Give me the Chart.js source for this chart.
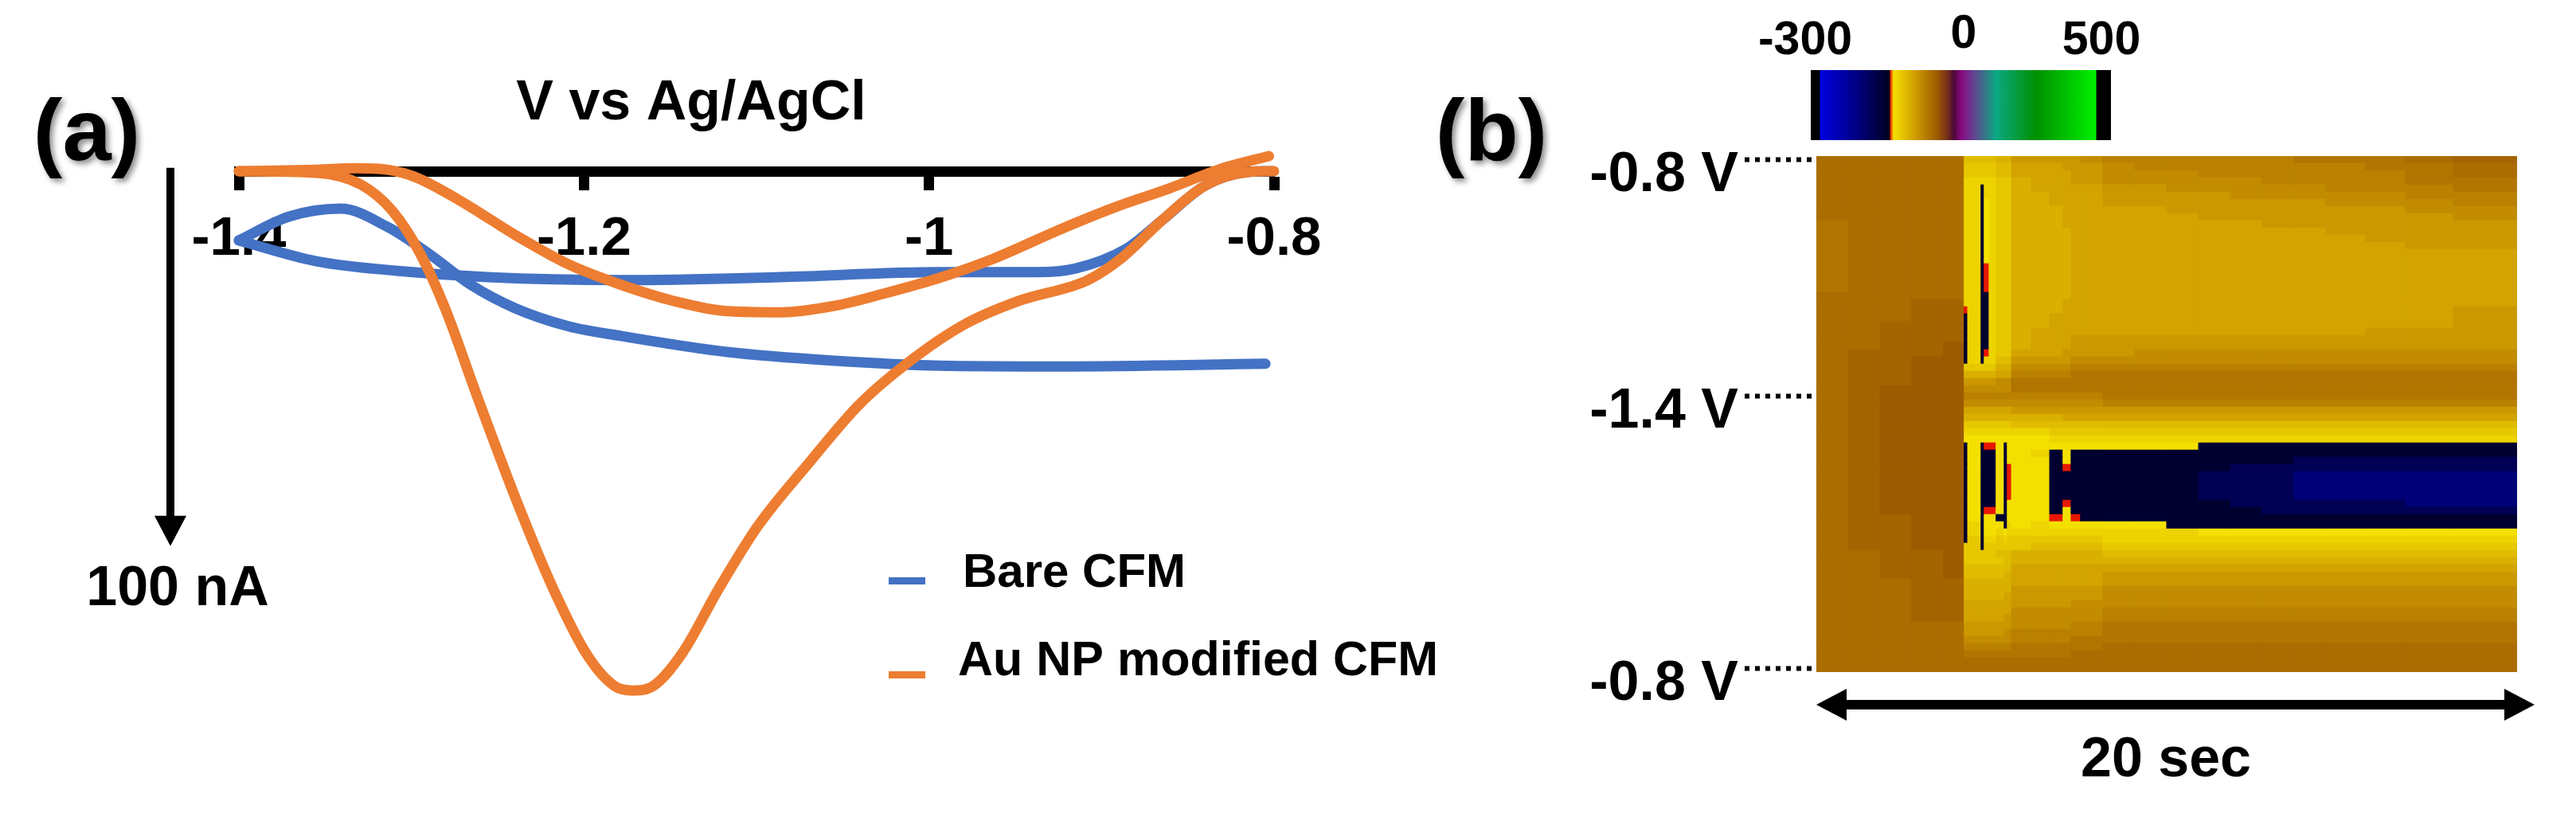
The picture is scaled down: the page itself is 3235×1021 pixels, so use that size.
<!DOCTYPE html>
<html>
<head>
<meta charset="utf-8">
<title>CFM voltammogram and color plot</title>
<script src="https://cdn.jsdelivr.net/npm/chart.js@4/dist/chart.umd.js"></script>
<style>
  html, body { margin: 0; background: #fff; }
  canvas { position: absolute; left: 0; top: 0; }
</style>
</head>
<body>
<canvas id="cv" width="3235" height="1021"></canvas>
<canvas id="heat" width="3235" height="1021"></canvas>
<canvas id="bar" width="3235" height="1021"></canvas>
<script>
// (a) cyclic voltammograms, volts and nA, one list per sweep
const voltTicks = [-1.4, -1.2, -1, -0.8];
const bareBackV = [-1.4, -1.371, -1.341, -1.314, -1.289, -1.266, -1.24, -1.209, -1.178, -1.117, -1.055, -0.994, -0.923, -0.805];
const bareBackI = [-18.2, -11.9, -9.8, -14.6, -22, -29.8, -36.1, -40.9, -43.5, -47.7, -50, -51.3, -51.5, -50.8];
const bareFwdV = [-1.4, -1.355, -1.309, -1.256, -1.178, -1.086, -0.994, -0.938, -0.915, -0.886, -0.865, -0.84, -0.815, -0.801];
const bareFwdI = [-18.2, -23.7, -26.2, -27.9, -28.7, -27.9, -26.6, -26.6, -25.6, -20.5, -12.9, -3.7, -0.1, 0.1];
const auBackV = [-1.4, -1.355, -1.332, -1.314, -1.298, -1.271, -1.24, -1.209, -1.178, -1.148, -1.117, -1.086, -1.055, -1.025, -0.994, -0.963, -0.923, -0.892, -0.861, -0.831, -0.803];
const auBackI = [0.1, 0.5, 0.9, 0.5, -1.4, -7.9, -16.7, -24.5, -30, -34.2, -36.9, -37.2, -35.5, -32.1, -28.1, -23.1, -15.1, -9.4, -4.5, 0.7, 4.1];
const auFwdV = [-1.4, -1.355, -1.329, -1.311, -1.295, -1.28, -1.262, -1.237, -1.217, -1.198, -1.182, -1.172, -1.161, -1.143, -1.122, -1.099, -1.069, -1.04, -1.009, -0.979, -0.948, -0.908, -0.889, -0.865, -0.84, -0.815, -0.8];
const auFwdI = [0.1, -0.3, -3.5, -10.4, -21.6, -36.7, -59.3, -89.4, -111.1, -127.9, -136.1, -137.2, -136.3, -127.3, -110.4, -93.6, -76.7, -61.4, -49.4, -40.3, -34.2, -28.7, -23.1, -12.9, -3.7, -0.1, 0.1];
const seriesNames = ['Bare CFM', 'Au NP modified CFM'];
const seriesColours = ['#4472C4', '#ED7D31'];

// colour scale, nA against place on the bar
const barValues = [-300, -221, -165, -155, -153, -146, -98, -55, -32, -20, -5, 33, 124, 276, 503];
const barColours = ['#0000e0', '#000080', '#000030', '#000018', '#e81800', '#f4e000', '#cc9800', '#9c5a00', '#702a20', '#4a0838', '#880880', '#6a3c90', '#0aa882', '#009000', '#00f000'];
const barPlaces = [0.032, 0.156, 0.247, 0.263, 0.265, 0.276, 0.353, 0.422, 0.459, 0.477, 0.501, 0.538, 0.618, 0.751, 0.95];

// (b) color plot: one letter per cell, looked up in heatChars / heatValues (nA)
const heatChars = 'nmkr0123456789abc';
const heatValues = [-215, -190, -165, -153, -56, -62, -68, -74, -82, -90, -98, -106, -114, -122, -130, -138, -146];
const colSeconds = [0.89, 0.91, 0.9, 0.91, 0.59, 0.1, 0.38, 0.09, 0.14, 0.2, 0.23, 0.09, 0.12, 0.56, 0.53, 0.38, 0.23, 0.27, 0.64, 0.91, 0.91, 0.91, 0.91, 0.9, 0.91, 0.91, 1.14, 1.14, 1.36, 1.84];
const heatRows = [
  '22222' + '99999888' + '666665' + '44444433321',
  '22222' + 'aaaaa999' + '777666' + '54444444332',
  '22222' + 'aaaaa999' + '777766' + '55544444432',
  '22222' + 'bbbbbaaa' + '877766' + '55555444433',
  '22222' + 'bbkbbaaa' + '877777' + '66555554443',
  '22222' + 'bbkbbaaa' + '887777' + '66665555544',
  '22222' + 'bbkcbaaa' + '887777' + '66666665554',
  '22222' + 'bbkcbaaa' + '888777' + '77666666655',
  '22222' + 'bbkcbaaa' + '888777' + '77766666665',
  '32222' + 'bbkcbaaa' + '888777' + '77777666666',
  '32222' + 'bbkcbaaa' + '888877' + '77777776666',
  '32222' + 'bbkcbaaa' + '888877' + '77777777666',
  '32222' + 'bbkcbaaa' + '888877' + '77777777766',
  '32222' + 'bbkcbaaa' + '888877' + '77777777777',
  '32222' + 'bbkcbaaa' + '888877' + '77777777777',
  '32222' + 'bbkrbaaa' + '888877' + '77777777777',
  '32222' + 'bbkrbaaa' + '888877' + '77777777777',
  '32222' + 'bbkrbaaa' + '888877' + '77777777777',
  '32222' + 'bbkrbaaa' + '888877' + '77777777777',
  '22222' + 'bbkkbaaa' + '888877' + '77777777777',
  '22211' + 'bbkkbaaa' + '888777' + '77777777777',
  '22211' + 'rbkkbaaa' + '888777' + '77777777776',
  '22211' + 'kbkkbaaa' + '887777' + '77777777776',
  '22111' + 'kbkkbaaa' + '887777' + '77777777776',
  '22111' + 'kbkkbaaa' + '877777' + '77777777666',
  '22111' + 'kbkkbaaa' + '877766' + '66666666666',
  '22110' + 'kbkkbaaa' + '877766' + '66666666666',
  '21110' + 'kbkrbaaa' + '777666' + '65555555555',
  '21100' + 'kbkbb999' + '666655' + '55555555555',
  '21100' + 'aaaaa888' + '555544' + '44444444444',
  '21100' + '88888777' + '444433' + '33333333333',
  '21100' + '66666555' + '333333' + '33333333333',
  '21000' + '55555555' + '333333' + '33333333333',
  '21000' + '44444444' + '444444' + '33333333333',
  '21000' + '55555555' + '555555' + '44444444444',
  '21000' + '77777777' + '666666' + '66666666666',
  '21000' + '88888888' + '888777' + '77777777777',
  '21000' + 'aaaaaaaa' + '999999' + '99999999999',
  '21000' + 'bbbbbbbb' + 'bbaaaa' + 'aaaaaaaaaaa',
  '21000' + 'cccccccc' + 'ccbbbb' + 'bbbbbbbbbbb',
  '21000' + 'kckrrckc' + 'cccccc' + 'ccckkkkkkkk',
  '21000' + 'kckkkckc' + 'cbkckk' + 'kkkkkkkkkkk',
  '21000' + 'kckkkckc' + 'cckckk' + 'kkkkkkmmmmm',
  '21000' + 'kckkkckr' + 'cckrkk' + 'kkkkmmmmmmm',
  '21000' + 'kckkkckr' + 'cckkkk' + 'kkkmmmnnnnn',
  '21000' + 'kckkkckr' + 'cckkkk' + 'kkkmmmnnnnn',
  '21000' + 'kckkkckr' + 'cckkkk' + 'kkkmmmnnnnn',
  '21000' + 'kckkkckr' + 'cckkkk' + 'kkkmmmnnnnn',
  '21000' + 'kckkkckc' + 'cckrkk' + 'kkkkmmmmmnn',
  '21000' + 'kckrrckc' + 'cckckk' + 'kkkkkmmmmmm',
  '21100' + 'kckcckkc' + 'ccrcrk' + 'kkkkkkkkkkk',
  '21100' + 'kbkccckb' + 'cbcccc' + 'cckkkkkkkkk',
  '21100' + 'kbkccbcb' + 'bbbbbb' + 'bbbcccccccc',
  '21100' + 'kakbbaba' + 'aaaaaa' + 'bbbbbbbbbbb',
  '21100' + 'aakaaaaa' + 'a99999' + 'aaaaaaaaaaa',
  '22110' + 'aaaaa999' + '888888' + '99999999999',
  '22110' + 'aaaaaa99' + '888888' + '88888888888',
  '22110' + '99999999' + '777777' + '77777777777',
  '22110' + '99999988' + '777777' + '66666666666',
  '22211' + '88888888' + '777777' + '66666666666',
  '22211' + '88888888' + '666666' + '55555555555',
  '22211' + '88888877' + '666666' + '55555555555',
  '22211' + '77777777' + '666655' + '55555555555',
  '22211' + '77777777' + '555555' + '44444444444',
  '22211' + '77777766' + '555555' + '44444444444',
  '22222' + '66666666' + '555544' + '33333333333',
  '22222' + '66666655' + '444444' + '33333333333',
  '22222' + '55555555' + '444433' + '33333333333',
  '22222' + '44444444' + '333333' + '22222222222',
  '22222' + '33333333' + '333322' + '22222222222',
  '22222' + '22222222' + '222222' + '22222222222',
  '22222' + '22222222' + '222222' + '22222222222'
];
const scanTickRows = [0, 33, 71];
const scanTickText = ['-0.8 V', '-1.4 V', '-0.8 V'];

const FONT = '"Liberation Sans", Arial, sans-serif';
Chart.defaults.animation = false;
Chart.defaults.responsive = false;
Chart.defaults.font.family = FONT;
Chart.defaults.font.weight = 'bold';
Chart.defaults.color = '#000';

function hexToRgb(hex) {
  return [1, 3, 5].map(i => parseInt(hex.substr(i, 2), 16));
}

// colour of a nA value on the bar's scale
function colourFor(v) {
  let i = 0;
  while (i < barValues.length - 2 && v > barValues[i + 1]) i++;
  let t = (v - barValues[i]) / (barValues[i + 1] - barValues[i]);
  t = Math.max(0, Math.min(1, t));
  const a = hexToRgb(barColours[i]), b = hexToRgb(barColours[i + 1]);
  return 'rgb(' + a.map((c, k) => Math.round(c + (b[k] - c) * t)).join(',') + ')';
}

function cellColour(r, c) {
  return colourFor(heatValues[heatChars.indexOf(heatRows[r][c])]);
}

function putText(ctx, text, x, y, size, shadow, align) {
  ctx.save();
  ctx.font = 'bold ' + size + 'px ' + FONT;
  ctx.fillStyle = '#000';
  ctx.textAlign = align || 'center';
  ctx.textBaseline = 'middle';
  if (shadow) {
    ctx.shadowColor = 'rgba(0,0,0,0.45)';
    ctx.shadowBlur = 7;
    ctx.shadowOffsetX = 4;
    ctx.shadowOffsetY = 4;
  }
  ctx.fillText(text, x, y);
  ctx.restore();
}

function arrowHead(ctx, x, y, dx, dy, len, half) {
  ctx.beginPath();
  ctx.moveTo(x, y);
  ctx.lineTo(x - dx * len - dy * half, y - dy * len - dx * half);
  ctx.lineTo(x - dx * len + dy * half, y - dy * len + dx * half);
  ctx.closePath();
  ctx.fill();
}

function sweep(name, colour, xs, ys) {
  return {
    label: name,
    data: xs.map((v, i) => ({ x: v, y: ys[i] })),
    borderColor: colour,
    showLine: true,
    cubicInterpolationMode: 'monotone',
    borderWidth: 13,
    borderCapStyle: 'round',
    pointRadius: 0,
    clip: false
  };
}

// ---- panel (a)
const cvNotes = {
  id: 'cvNotes',
  afterDraw(chart) {
    const ctx = chart.ctx;
    const y = chart.scales.y;
    putText(ctx, '(a)', 109, 171, 110, true);
    putText(ctx, 'V vs Ag/AgCl', 868, 131, 70);
    putText(ctx, '100 nA', 223, 741, 70);
    // scale arrow is 100 nA long
    const top = y.getPixelForValue(1), tip = y.getPixelForValue(-99);
    ctx.save();
    ctx.fillStyle = '#000';
    ctx.fillRect(209, top, 10, tip - top - 30);
    arrowHead(ctx, 214, tip, 0, 1, 38, 20);
    // legend by hand, low on the right
    ctx.fillStyle = seriesColours[0];
    ctx.fillRect(1116, 725, 46, 9);
    ctx.fillStyle = seriesColours[1];
    ctx.fillRect(1116, 843, 46, 9);
    ctx.restore();
    putText(ctx, seriesNames[0], 1209, 720, 60, false, 'left');
    putText(ctx, seriesNames[1], 1203, 831, 61, false, 'left');
  }
};

new Chart(document.getElementById('cv'), {
  type: 'scatter',
  data: {
    // first dataset is painted last, orange goes over blue
    datasets: [
      sweep(seriesNames[1], seriesColours[1], auBackV, auBackI),
      sweep(seriesNames[1], seriesColours[1], auFwdV, auFwdI),
      sweep(seriesNames[0], seriesColours[0], bareBackV, bareBackI),
      sweep(seriesNames[0], seriesColours[0], bareFwdV, bareFwdI)
    ]
  },
  options: {
    layout: { padding: { left: 300, right: 3235 - 1600, top: 168, bottom: 93 } },
    scales: {
      x: {
        type: 'linear',
        min: -1.4,
        max: -0.8,
        position: { y: 0 },
        afterBuildTicks: s => { s.ticks = voltTicks.map(v => ({ value: v })); },
        border: { display: true, width: 13, color: '#000' },
        grid: { display: true, drawOnChartArea: false, tickLength: 17, tickWidth: 13, tickColor: '#000' },
        ticks: { font: { size: 69, weight: 'bold' }, color: '#000', padding: 27, maxRotation: 0, callback: v => String(v) }
      },
      y: { min: -150, max: 10, display: false }
    },
    plugins: { legend: { display: false }, tooltip: { enabled: false } }
  },
  plugins: [cvNotes]
});

// ---- panel (b)
const heatNotes = {
  id: 'heatNotes',
  afterDraw(chart) {
    const ctx = chart.ctx;
    const xs = chart.scales.x;
    putText(ctx, '(b)', 1873, 171, 110, true);
    putText(ctx, '-300', 2267, 52, 59);
    putText(ctx, '0', 2466, 44, 59);
    putText(ctx, '500', 2639, 52, 59);
    putText(ctx, '20 sec', 2720, 956, 70);
    // time span arrow under the plot, both ends
    const x0 = xs.getPixelForValue(0), x1 = xs.getPixelForValue(20) + 22;
    ctx.save();
    ctx.fillStyle = '#000';
    ctx.fillRect(x0 + 30, 879, x1 - x0 - 60, 12);
    arrowHead(ctx, x0, 885, -1, 0, 38, 20);
    arrowHead(ctx, x1, 885, 1, 0, 38, 20);
    ctx.restore();
  }
};

new Chart(document.getElementById('heat'), {
  type: 'bar',
  data: {
    labels: heatRows.map((row, r) => r),
    datasets: colSeconds.map((w, c) => ({
      data: heatRows.map(() => w),
      backgroundColor: heatRows.map((row, r) => cellColour(r, c)),
      barPercentage: 1,
      categoryPercentage: 1,
      borderWidth: 0
    }))
  },
  options: {
    indexAxis: 'y',
    layout: { padding: { left: 2281 - 290, right: 3235 - 3161, top: 196, bottom: 1021 - 844 } },
    scales: {
      x: { type: 'linear', stacked: true, min: 0, max: 20, display: false },
      y: {
        type: 'category',
        stacked: true,
        afterBuildTicks: s => { s.ticks = s.ticks.filter(t => scanTickRows.includes(t.value)); },
        afterFit: s => { s.width = 290; },
        border: { display: false },
        grid: { display: true, offset: false, drawOnChartArea: false, tickLength: 90, tickWidth: 6, tickColor: '#000', tickBorderDash: [6, 7] },
        ticks: { autoSkip: false, font: { size: 70, weight: 'bold' }, color: '#000', padding: 8, labelOffset: 20, callback: (v, i) => scanTickText[i] }
      }
    },
    plugins: { legend: { display: false }, tooltip: { enabled: false } }
  },
  plugins: [heatNotes]
});

// ---- colour bar, one long bar filled with the scale
new Chart(document.getElementById('bar'), {
  type: 'bar',
  data: {
    labels: ['nA'],
    datasets: [{
      data: [1],
      barPercentage: 1,
      categoryPercentage: 1,
      backgroundColor: c => {
        const area = c.chart.chartArea;
        if (!area) return '#000';
        const g = c.chart.ctx.createLinearGradient(area.left, 0, area.right, 0);
        g.addColorStop(0, '#000');
        g.addColorStop(0.029, '#000');
        barPlaces.forEach((p, i) => g.addColorStop(p, barColours[i]));
        g.addColorStop(0.952, '#000');
        g.addColorStop(1, '#000');
        return g;
      }
    }]
  },
  options: {
    indexAxis: 'y',
    layout: { padding: { left: 2274, right: 3235 - 2651, top: 88, bottom: 1021 - 176 } },
    scales: {
      x: { min: 0, max: 1, display: false },
      y: { display: false }
    },
    plugins: { legend: { display: false }, tooltip: { enabled: false } }
  }
});
</script>
</body>
</html>
